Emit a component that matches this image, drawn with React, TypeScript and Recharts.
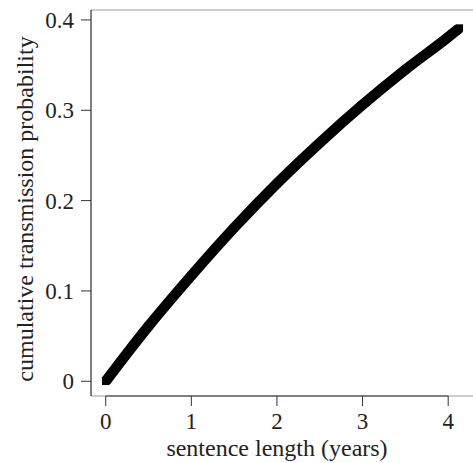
import { LineChart, Line, XAxis, YAxis, ReferenceLine } from "recharts";

// values
const sentenceYears = [0, 0.25, 0.5, 1, 1.5, 2, 2.5, 3, 3.5, 4, 4.13];
const transmissionProb = [0, 0.031, 0.061, 0.117, 0.17, 0.219, 0.264, 0.306, 0.345, 0.381, 0.391];
const xTicks = [0, 1, 2, 3, 4];
const yTicks = [0, 0.1, 0.2, 0.3, 0.4];

const data = sentenceYears.map((x, i) => ({ x, p: transmissionProb[i] }));

const xDomain: [number, number] = [-0.172, 4.29];
const yDomain: [number, number] = [-0.0163, 0.411];

const font = "Liberation Serif";
const tickStyle = { fontFamily: font, fontSize: 23, fill: "#222" };
const labelStyle = { fontFamily: font, fontSize: 24, fill: "#222" };

const SquareDot = (props: any) => {
  const { cx, cy } = props;
  if (cx == null || cy == null) return null;
  const s = 7.5;
  return <rect x={cx - s / 2} y={cy - s / 2} width={s} height={s} fill="#000" />;
};

export default function App() {
  return (
    <div style={{ position: "absolute", left: 0, top: 0, fontFamily: font }}>
      <LineChart
        width={473}
        height={463}
        data={data}
        margin={{ top: 10, right: 0, bottom: 0, left: 0 }}
        style={{ fontFamily: font }}
      >
        <XAxis
          type="number"
          dataKey="x"
          domain={xDomain}
          ticks={xTicks}
          allowDataOverflow
          height={67}
          tickSize={10}
          tickMargin={7}
          axisLine={{ stroke: "#999" }}
          tickLine={{ stroke: "#333" }}
          tick={tickStyle}
          label={{
            value: "sentence length (years)",
            position: "insideBottom",
            offset: 7,
            dx: -5,
            style: labelStyle,
          }}
        />
        <YAxis
          type="number"
          domain={yDomain}
          ticks={yTicks}
          allowDataOverflow
          width={91}
          tickSize={10}
          tickMargin={7}
          axisLine={{ stroke: "#000" }}
          tickLine={{ stroke: "#333" }}
          tick={tickStyle}
          label={{
            value: "cumulative transmission probability",
            angle: -90,
            position: "insideLeft",
            offset: 24,
            dy: 6,
            style: { ...labelStyle, textAnchor: "middle" },
          }}
        />
        <ReferenceLine y={yDomain[1]} stroke="#999" />
        <ReferenceLine
          segment={[
            { x: 0, y: yDomain[0] },
            { x: 4, y: yDomain[0] },
          ]}
          stroke="#333"
          strokeWidth={1.5}
        />
        <Line
          type="monotone"
          dataKey="p"
          stroke="#000"
          strokeWidth={10.5}
          dot={<SquareDot />}
          activeDot={false}
          isAnimationActive={false}
        />
      </LineChart>
    </div>
  );
}
